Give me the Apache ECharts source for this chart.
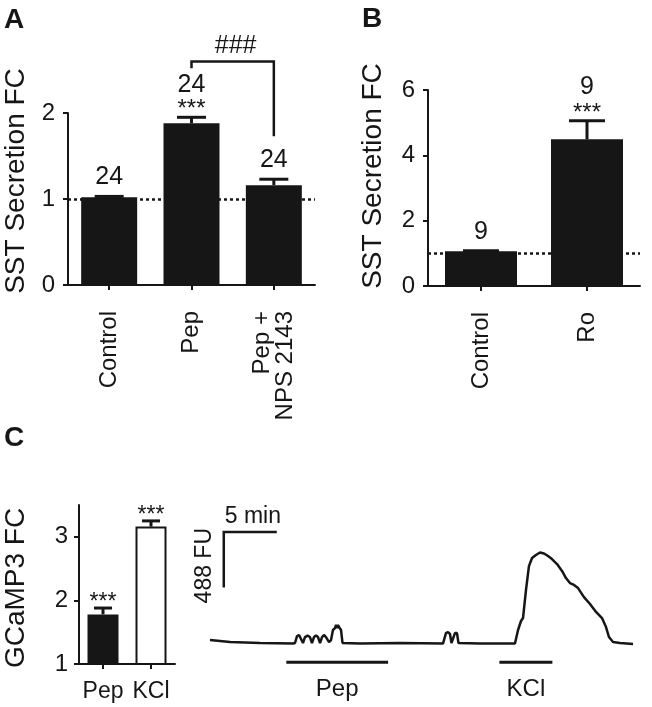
<!DOCTYPE html>
<html><head><meta charset="utf-8">
<script src="https://cdn.jsdelivr.net/npm/echarts@6/dist/echarts.min.js"></script>
<style>html,body{margin:0;padding:0;background:#fff}#c{width:652px;height:707px}</style>
</head><body><div id="c"></div>
<script>
// ---- Panel A ----
const catA = ['Control', 'Pep', 'Pep +\nNPS 2143'];
const meanA = [1.02, 1.88, 1.16];
const semA = [0.01, 0.07, 0.07];
const nA = [24, 24, 24];
const sigA = ['', '***', ''];
const compareA = [[1, 2, '###']];
// ---- Panel B ----
const catB = ['Control', 'Ro'];
const meanB = [1.06, 4.49];
const semB = [0.02, 0.57];
const nB = [9, 9];
const sigB = ['', '***'];
// ---- Panel C bars ----
const catC = ['Pep', 'KCl'];
const meanC = [1.78, 3.16];
const semC = [0.10, 0.09];
const sigC = ['***', '***'];
// ---- Panel C trace (time in min, fluorescence in FU above baseline) ----
const traceT = [0,1.89,4.72,7.83,8.02,8.21,8.40,8.58,8.77,8.96,9.20,9.43,9.62,9.81,10.0,10.19,10.38,10.57,10.75,10.94,11.23,11.42,11.60,11.79,11.89,11.98,12.08,12.17,12.36,12.50,14.15,17.92,21.98,22.08,22.26,22.45,22.64,22.78,22.92,23.11,23.30,23.44,25.47,28.77,28.87,29.06,29.34,29.53,29.81,30.09,30.38,30.75,31.13,31.51,31.89,32.26,32.74,33.21,33.58,33.96,34.34,34.72,35.28,35.85,36.42,36.98,37.36,37.64,38.02,38.68,39.91];
const traceFU = [29,11,3,-2,3,64,73,64,3,55,68,55,3,55,68,55,3,55,73,55,11,29,117,134,161,134,161,143,117,3,-2,3,-2,3,90,99,82,3,3,90,90,3,-2,-2,3,117,196,222,468,678,749,775,797,788,766,740,696,635,573,529,512,485,406,345,275,222,143,55,11,3,-6];
const stimName = ['Pep', 'KCl'];
const stimStart = [7.2, 27.3];
const stimEnd = [16.8, 32.3];
const scaleMin = [5];
const scaleFU = [488];

const INK = '#161616';
const FONT = '"Liberation Sans", Arial, Helvetica, sans-serif';

function catAxis(gi, cats, rotate, fs, margin) {
  return {
    type: 'category', gridIndex: gi, data: cats, boundaryGap: true,
    axisLine: {show: true, lineStyle: {color: INK, width: 2}},
    axisTick: {show: true, alignWithLabel: true, length: 5, lineStyle: {color: INK, width: 2}},
    axisLabel: {interval: 0, rotate: rotate, margin: margin, color: INK, fontFamily: FONT, fontSize: fs, lineHeight: 23},
    splitLine: {show: false}
  };
}
function valAxis(gi, min, max, interval, extra) {
  const ax = {
    type: 'value', gridIndex: gi, min: min, max: max, interval: interval,
    axisLine: {show: true, lineStyle: {color: INK, width: 2}},
    axisTick: {show: true, length: 5, lineStyle: {color: INK, width: 2}},
    axisLabel: {margin: 13, color: INK, fontFamily: FONT, fontSize: 24},
    splitLine: {show: false}
  };
  return Object.assign(ax, extra || {});
}
function txt(text, x, y, fs, extra) {
  return Object.assign({type: 'text', style: {text: text, x: x, y: y, fill: INK, font: fs + 'px ' + FONT,
    textAlign: 'center', textVerticalAlign: 'middle', align: 'center', verticalAlign: 'middle'}}, extra || {});
}
function letter(ch, x, y) {
  return {type: 'text', style: {text: ch, x: x, y: y, fill: INK, font: 'bold 28px ' + FONT, textAlign: 'center', textVerticalAlign: 'middle'}};
}
function makeErr(nArr, sigArr, capHalf, fs, nGapSig, nGapPlain, sigGap) {
  return function (params, api) {
    const i = params.dataIndex;
    const x = api.value(0), m = api.value(1), e = api.value(2);
    const pb = api.coord([x, m]), pt = api.coord([x, m + e]);
    const kids = [
      {type: 'line', shape: {x1: pb[0], y1: pb[1], x2: pt[0], y2: pt[1]}, style: {stroke: INK, lineWidth: 3}},
      {type: 'line', shape: {x1: pt[0] - capHalf, y1: pt[1], x2: pt[0] + capHalf, y2: pt[1]}, style: {stroke: INK, lineWidth: 3}}
    ];
    const sig = sigArr[i];
    if (sig) kids.push(txt(sig, pt[0], pt[1] - sigGap, fs));
    if (nArr) kids.push(txt(String(nArr[i]), pt[0], pt[1] - (sig ? nGapSig : nGapPlain), 25));
    return {type: 'group', children: kids};
  };
}
const dotted = {silent: true, symbol: 'none', label: {show: false},
  lineStyle: {color: INK, width: 2.5, type: [3, 3]}, data: [{yAxis: 1}]};

const option = {
  animation: false,
  backgroundColor: '#fff',
  textStyle: {fontFamily: FONT},
  grid: [
    {left: 68, top: 113, width: 247, height: 172, outerBoundsMode: 'none'},
    {left: 428, top: 90, width: 212, height: 196, outerBoundsMode: 'none'},
    {left: 79, top: 505, width: 96, height: 159, outerBoundsMode: 'none'},
    {left: 210, top: 529.4, width: 424, height: 136.7, outerBoundsMode: 'none'}
  ],
  xAxis: [
    catAxis(0, catA, 90, 24, 26),
    catAxis(1, catB, 90, 24, 26),
    catAxis(2, catC, 0, 23, 16),
    {type: 'value', gridIndex: 3, min: 0, max: 40, show: false}
  ],
  yAxis: [
    valAxis(0, 0, 2, 1),
    valAxis(1, 0, 6, 2),
    valAxis(2, 1, 3.5, 1, {
      axisTick: {show: true, length: 5, customValues: [1, 2, 3], lineStyle: {color: INK, width: 2}},
      axisLabel: {margin: 11, color: INK, fontFamily: FONT, fontSize: 24, customValues: [1, 2, 3]}
    }),
    {type: 'value', gridIndex: 3, min: -200, max: 1000, show: false}
  ],
  graphic: [
    letter('A', 14, 20),
    letter('B', 372, 19),
    letter('C', 14, 438),
    {type: 'text', x: 16, y: 181, rotation: Math.PI / 2, style: {text: 'SST Secretion FC', x: 0, y: 0, fill: INK, font: '28px ' + FONT, textAlign: 'center', textVerticalAlign: 'middle'}},
    {type: 'text', x: 373, y: 176, rotation: Math.PI / 2, style: {text: 'SST Secretion FC', x: 0, y: 0, fill: INK, font: '28px ' + FONT, textAlign: 'center', textVerticalAlign: 'middle'}},
    {type: 'text', x: 16, y: 588, rotation: Math.PI / 2, style: {text: 'GCaMP3 FC', x: 0, y: 0, fill: INK, font: '28px ' + FONT, textAlign: 'center', textVerticalAlign: 'middle'}}
  ],
  series: [
    {type: 'bar', xAxisIndex: 0, yAxisIndex: 0, data: meanA, barWidth: 56, itemStyle: {color: INK}, markLine: dotted},
    {type: 'custom', xAxisIndex: 0, yAxisIndex: 0, clip: false, encode: {x: 0, y: [1, 2]},
      data: meanA.map((m, i) => [i, m, semA[i]]), renderItem: makeErr(nA, sigA, 14.5, 24, 32, 19, 8)},
    {type: 'custom', xAxisIndex: 0, yAxisIndex: 0, clip: false, encode: {x: [0, 1]},
      data: compareA.map(c => [c[0], c[1]]),
      renderItem: function (params, api) {
        const a = api.value(0), b = api.value(1);
        const p1 = api.coord([a, 2.52]), p2 = api.coord([a, 2.6]), p3 = api.coord([b, 2.6]), p4 = api.coord([b, 1.73]);
        return {type: 'group', children: [
          {type: 'polyline', shape: {points: [p1, p2, p3, p4]}, style: {stroke: INK, lineWidth: 2.5, fill: null}},
          txt(compareA[params.dataIndex][2], (p2[0] + p3[0]) / 2 + 3, p2[1] - 15, 25)
        ]};
      }},
    {type: 'bar', xAxisIndex: 1, yAxisIndex: 1, data: meanB, barWidth: 72, itemStyle: {color: INK}, markLine: dotted},
    {type: 'custom', xAxisIndex: 1, yAxisIndex: 1, clip: false, encode: {x: 0, y: [1, 2]},
      data: meanB.map((m, i) => [i, m, semB[i]]), renderItem: makeErr(nB, sigB, 18, 24, 34, 19, 7)},
    {type: 'bar', xAxisIndex: 2, yAxisIndex: 2, barWidth: 31,
      data: meanC.map((m, i) => ({value: m, itemStyle: {color: i === 0 ? INK : '#fff', borderColor: INK, borderWidth: 2}}))},
    {type: 'custom', xAxisIndex: 2, yAxisIndex: 2, clip: false, encode: {x: 0, y: [1, 2]},
      data: meanC.map((m, i) => [i, m, semC[i]]), renderItem: makeErr(null, sigC, 9, 23, 0, 0, 5)},
    {type: 'line', xAxisIndex: 3, yAxisIndex: 3, showSymbol: false, clip: false,
      lineStyle: {color: INK, width: 2.5}, data: traceT.map((t, i) => [t, traceFU[i]])},
    {type: 'custom', xAxisIndex: 3, yAxisIndex: 3, clip: false, encode: {x: 0, y: 1},
      data: [[scaleMin[0], scaleFU[0]]],
      renderItem: function (params, api) {
        const dt = api.value(0), df = api.value(1);
        const t0 = 1.3, f0 = 490;
        const pb = api.coord([t0, f0]), pc = api.coord([t0, f0 + df]), pr = api.coord([t0 + dt, f0 + df]);
        return {type: 'group', children: [
          {type: 'polyline', shape: {points: [pb, pc, pr]}, style: {stroke: INK, lineWidth: 2.5, fill: null}},
          {type: 'text', style: {text: dt + ' min', x: pc[0] + 1, y: pc[1] - 15, fill: INK, font: '23px ' + FONT, textAlign: 'left', textVerticalAlign: 'middle'}},
          {type: 'text', x: pc[0] - 19, y: (pb[1] + pc[1]) / 2 + 6, rotation: Math.PI / 2,
            style: {text: df + ' FU', x: 0, y: 0, fill: INK, font: '23px ' + FONT, textAlign: 'center', textVerticalAlign: 'middle'}}
        ]};
      }},
    {type: 'custom', xAxisIndex: 3, yAxisIndex: 3, clip: false, encode: {x: [0, 1]},
      data: stimStart.map((s, i) => [s, stimEnd[i]]),
      renderItem: function (params, api) {
        const a = api.coord([api.value(0), -167]), b = api.coord([api.value(1), -167]);
        return {type: 'group', children: [
          {type: 'line', shape: {x1: a[0], y1: a[1], x2: b[0], y2: b[1]}, style: {stroke: INK, lineWidth: 3}},
          txt(stimName[params.dataIndex], (a[0] + b[0]) / 2, a[1] + 27, 24)
        ]};
      }}
  ]
};
const chart = echarts.init(document.getElementById('c'), null, {renderer: 'canvas'});
chart.setOption(option);
</script></body></html>
